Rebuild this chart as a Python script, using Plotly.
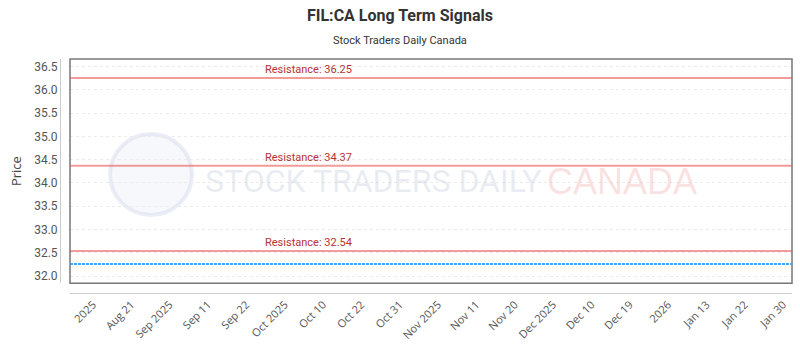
import plotly.graph_objects as go

# ---- data ----
tick_labels = ["2025", "Aug 21", "Sep 2025", "Sep 11", "Sep 22", "Oct 2025", "Oct 10",
               "Oct 22", "Oct 31", "Nov 2025", "Nov 11", "Nov 20", "Dec 2025", "Dec 10",
               "Dec 19", "2026", "Jan 13", "Jan 22", "Jan 30"]
resistance_levels = [36.25, 34.37, 32.54]
price_level = 32.26
y_ticks = [32.0, 32.5, 33.0, 33.5, 34.0, 34.5, 35.0, 35.5, 36.0, 36.5]

fig = go.Figure()

# invisible trace to establish category axis
fig.add_trace(go.Scatter(x=tick_labels, y=[price_level] * len(tick_labels),
                         mode="lines", line=dict(width=0), hoverinfo="skip",
                         showlegend=False))

shapes = []
# frame
shapes.append(dict(type="rect", xref="x domain", yref="y domain", x0=0, x1=1, y0=0, y1=1,
                   line=dict(color="#777777", width=1.5), layer="above"))
# watermark logo circle
shapes.append(dict(type="circle", xref="paper", yref="paper",
                   x0=(110 - 60) / 732, x1=(192 - 60) / 732,
                   y0=(296 - 217) / 237, y1=(296 - 135) / 237,
                   line=dict(color="rgba(190,200,225,0.3)", width=4),
                   fillcolor="rgba(210,218,240,0.18)", layer="below"))
# resistance lines
for lv in resistance_levels:
    shapes.append(dict(type="line", xref="x domain", yref="y", x0=0, x1=1, y0=lv, y1=lv,
                       line=dict(color="rgba(232,90,85,0.6)", width=2)))
# price line
shapes.append(dict(type="line", xref="x domain", yref="y", x0=0, x1=1,
                   y0=price_level, y1=price_level,
                   line=dict(color="#42a5f5", width=2, dash="3px,1px")))

annotations = []
for lv in resistance_levels:
    annotations.append(dict(xref="x domain", yref="y", x=(263 - 70) / 722, y=lv,
                            xanchor="left", yanchor="bottom", yshift=0,
                            text=f"Resistance: {lv:.2f}", showarrow=False,
                            font=dict(family="Roboto", size=11, color="#b83232")))
# watermark text
annotations.append(dict(xref="paper", yref="paper", x=(203 - 60) / 732, y=(296 - 183) / 237,
                        xanchor="left", yanchor="middle", showarrow=False,
                        text="STOCK TRADERS DAILY",
                        font=dict(family="Roboto", size=32,
                                  color="rgba(175,188,210,0.28)")))
annotations.append(dict(xref="paper", yref="paper", x=(545 - 60) / 732, y=(296 - 183) / 237,
                        xanchor="left", yanchor="middle", showarrow=False,
                        text="CANADA",
                        font=dict(family="Liberation Sans, Arial", size=36,
                                  color="rgba(240,150,150,0.28)")))
# title & subtitle
annotations.append(dict(xref="paper", yref="paper", x=(400 - 60) / 732, y=1, yshift=44,
                        xanchor="center", yanchor="middle", showarrow=False,
                        text="<b>FIL:CA Long Term Signals</b>",
                        font=dict(family="Roboto", size=16, color="#333333")))
annotations.append(dict(xref="paper", yref="paper", x=(400 - 60) / 732, y=1, yshift=19,
                        xanchor="center", yanchor="middle", showarrow=False,
                        text="Stock Traders Daily Canada",
                        font=dict(family="Roboto", size=11, color="#333333")))

fig.update_layout(
    width=800, height=350,
    margin=dict(l=60, r=8, t=59, b=54),
    paper_bgcolor="white", plot_bgcolor="white",
    showlegend=False,
    shapes=shapes, annotations=annotations,
    xaxis=dict(domain=[10 / 732, 1], type="category", range=[-0.6, 18.23],
               tickmode="array", tickvals=tick_labels, ticktext=tick_labels,
               tickangle=-45, showgrid=False, zeroline=False,
               showline=True, linecolor="#cccccc", linewidth=1,
               anchor="free", position=0, ticks="",
               tickfont=dict(family="Open Sans", size=11, color="#555555")),
    yaxis=dict(domain=[10 / 237, 1], range=[31.85, 36.66],
               tickmode="array", tickvals=y_ticks, ticktext=[f"{v:.1f}" for v in y_ticks],
               showgrid=True, gridcolor="#ebebeb", griddash="dot", gridwidth=1,
               zeroline=False, showline=True, linecolor="#cccccc", linewidth=1,
               anchor="free", position=0, ticks="",
               title=dict(text="Price", font=dict(family="Open Sans", size=13, color="#444444"),
                          standoff=8),
               tickfont=dict(family="Roboto", size=12, color="#555555")),
)

fig.write_html("out.html")
